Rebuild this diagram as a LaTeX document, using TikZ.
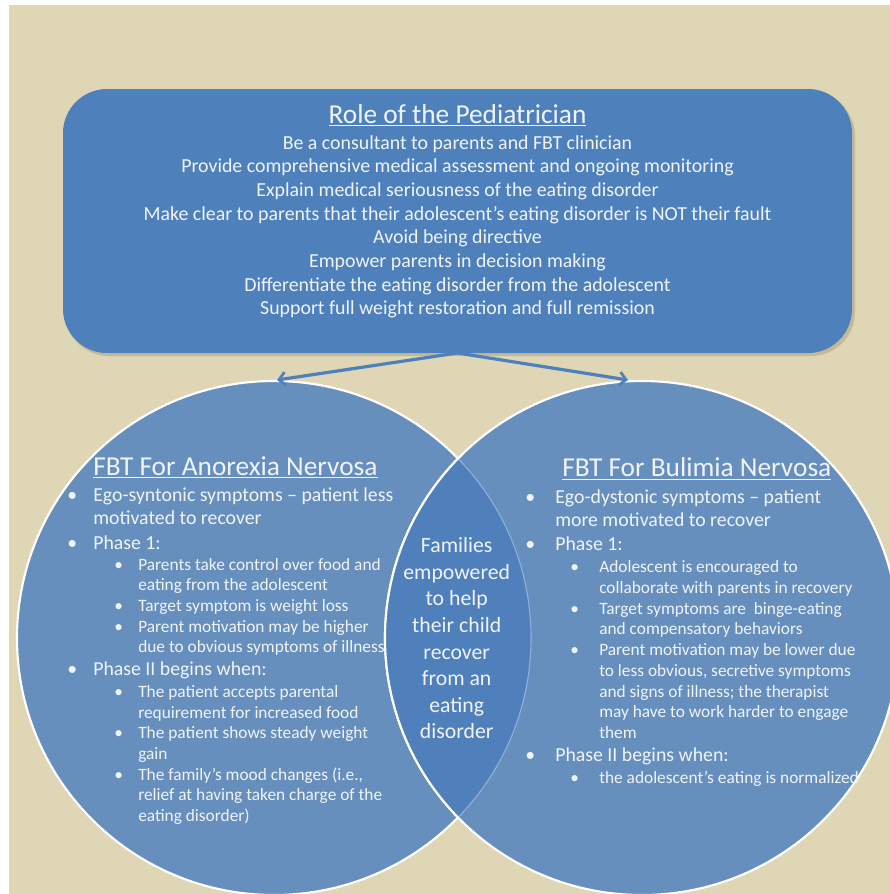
\documentclass[tikz,border=0pt]{standalone}
\usepackage{fontspec}
\setmainfont{Carlito}
\usetikzlibrary{arrows.meta}
\definecolor{beige}{RGB}{223,214,182}
\definecolor{boxblue}{RGB}{78,128,187}
\definecolor{circblue}{RGB}{102,143,189}
\definecolor{lensblue}{RGB}{80,128,188}
\definecolor{shadowc}{RGB}{170,158,120}
\definecolor{txtc}{RGB}{240,244,250}
\tikzset{
  txt/.style={inner sep=0pt, text=txtc, anchor=base west},
  ctr/.style={inner sep=0pt, text=txtc, anchor=base},
  fTop/.style={font=\fontsize{14.9}{16}\selectfont},
  fHead/.style={font=\fontsize{20.5}{22}\selectfont},
  fOne/.style={font=\fontsize{14.85}{16}\selectfont},
  fTwo/.style={font=\fontsize{13}{14}\selectfont},
  fMid/.style={font=\fontsize{16.3}{17}\selectfont},
  conn/.style={draw=boxblue, line width=2.4pt, -{Straight Barb[length=5pt,width=10pt,line width=2pt]}},
}
\newcommand{\ul}[1]{\underline{#1}}
\begin{document}
\begin{tikzpicture}[x=0.75pt,y=-0.75pt]
\useasboundingbox (0,0) rectangle (890,894);
\fill[white] (0,0) rectangle (890,894);
\fill[beige] (9,5) rectangle (890,894);
% top box
\fill[shadowc, opacity=0.5, rounded corners=33pt] (65,92) rectangle (855,356);
\node[draw=none, fill=boxblue, rounded corners=33pt, minimum width=789*0.75pt, minimum height=264*0.75pt, inner sep=0pt] (box) at (457.5,221) {};
% circles
\coordinate (cL) at (274,638);
\coordinate (cR) at (642,638);
\fill[circblue] (cL) circle (257*0.75pt);
\draw[white, line width=1.6pt] (cL) circle (257*0.75pt);
\fill[circblue] (cR) circle (257*0.75pt);
\draw[white, line width=1.6pt] (cR) circle (257*0.75pt);
\begin{scope}
  \clip (cL) circle (257*0.75pt);
  \fill[lensblue] (cR) circle (257*0.75pt);
  \draw[white, line width=1.6pt] (cR) circle (257*0.75pt);
\end{scope}
\begin{scope}
  \clip (cR) circle (257*0.75pt);
  \draw[white, opacity=0.35, line width=0.8pt] (cL) circle (257*0.75pt);
\end{scope}
% arrows
\coordinate (aL) at (277,380);
\coordinate (aR) at (628,380);
\coordinate (aS) at (457.5,353);
\draw[conn] (aS) -- (aL);
\draw[conn] (aS) -- (aR);
% top text
\node[ctr, fHead] (t0) at (457.5,123) {\ul{Role of the Pediatrician}};
\node[ctr, fTop] (t1) at (457.5,149) {Be a consultant to parents and FBT clinician};
\node[ctr, fTop] (t2) at (457.5,172.7) {Provide comprehensive medical assessment and ongoing monitoring};
\node[ctr, fTop] (t3) at (457.5,196.4) {Explain medical seriousness of the eating disorder};
\node[ctr, fTop] (t4) at (457.5,220.1) {Make clear to parents that their adolescent’s eating disorder is NOT their fault};
\node[ctr, fTop] (t5) at (457.5,243.8) {Avoid being directive};
\node[ctr, fTop] (t6) at (457.5,267.5) {Empower parents in decision making};
\node[ctr, fTop] (t7) at (457.5,291.2) {Differentiate the eating disorder from the adolescent};
\node[ctr, fTop] (t8) at (457.5,314.9) {Support full weight restoration and full remission};
% left circle text
\node[txt, fHead] (a0) at (93,475) {\ul{FBT For Anorexia Nervosa}};
\node[txt, fOne] (ab1) at (67,501.7) {•};
\node[txt, fOne] (a1) at (93,501.7) {Ego-syntonic symptoms – patient less};
\node[txt, fOne] (a2) at (93,524.5) {motivated to recover};
\node[txt, fOne] (ab3) at (67,549) {•};
\node[txt, fOne] (a3) at (93,549) {Phase 1:};
\node[txt, fTwo] (ab4) at (114,570) {•};
\node[txt, fTwo] (a4) at (138,570) {Parents take control over food and};
\node[txt, fTwo] (a5) at (138,590.7) {eating from the adolescent};
\node[txt, fTwo] (ab6) at (114,611.5) {•};
\node[txt, fTwo] (a6) at (138,611.5) {Target symptom is weight loss};
\node[txt, fTwo] (ab7) at (114,632.2) {•};
\node[txt, fTwo] (a7) at (138,632.2) {Parent motivation may be higher};
\node[txt, fTwo] (a8) at (138,652.9) {due to obvious symptoms of illness};
\node[txt, fOne] (ab9) at (67,675.5) {•};
\node[txt, fOne] (a9) at (93,675.5) {Phase II begins when:};
\node[txt, fTwo] (ab10) at (114,697.3) {•};
\node[txt, fTwo] (a10) at (138,697.3) {The patient accepts parental};
\node[txt, fTwo] (a11) at (138,718) {requirement for increased food};
\node[txt, fTwo] (ab12) at (114,738.7) {•};
\node[txt, fTwo] (a12) at (138,738.7) {The patient shows steady weight};
\node[txt, fTwo] (a13) at (138,759.4) {gain};
\node[txt, fTwo] (ab14) at (114,780.1) {•};
\node[txt, fTwo] (a14) at (138,780.1) {The family’s mood changes (i.e.,};
\node[txt, fTwo] (a15) at (138,800.8) {relief at having taken charge of the};
\node[txt, fTwo] (a16) at (138,821.5) {eating disorder)};
% right circle text
\node[txt, fHead] (b0) at (562,476.7) {\ul{FBT For Bulimia Nervosa}};
\node[txt, fOne] (bb1) at (525,503.3) {•};
\node[txt, fOne] (b1) at (555,503.3) {Ego-dystonic symptoms – patient};
\node[txt, fOne] (b2) at (555,526.3) {more motivated to recover};
\node[txt, fOne] (bb3) at (525,550) {•};
\node[txt, fOne] (b3) at (555,550) {Phase 1:};
\node[txt, fTwo] (bb4) at (570,572.7) {•};
\node[txt, fTwo] (b4) at (599,572.7) {Adolescent is encouraged to};
\node[txt, fTwo] (b5) at (599,593.4) {collaborate with parents in recovery};
\node[txt, fTwo] (bb6) at (570,614.2) {•};
\node[txt, fTwo] (b6) at (599,614.2) {Target symptoms are\ \ binge-eating};
\node[txt, fTwo] (b7) at (599,634.9) {and compensatory behaviors};
\node[txt, fTwo] (bb8) at (570,655.7) {•};
\node[txt, fTwo] (b8) at (599,655.7) {Parent motivation may be lower due};
\node[txt, fTwo] (b9) at (599,676.5) {to less obvious, secretive symptoms};
\node[txt, fTwo] (b10) at (599,697.2) {and signs of illness; the therapist};
\node[txt, fTwo] (b11) at (599,717.7) {may have to work harder to engage};
\node[txt, fTwo] (b12) at (599,738.4) {them};
\node[txt, fOne] (bb13) at (525,761.8) {•};
\node[txt, fOne] (b13) at (555,761.8) {Phase II begins when:};
\node[txt, fTwo] (bb14) at (570,783.3) {•};
\node[txt, fTwo] (b14) at (599,783.3) {the adolescent’s eating is normalized};
% center text
\node[ctr, fMid] (m1) at (456.7,552.7) {Families};
\node[ctr, fMid] (m2) at (456.7,579.3) {empowered};
\node[ctr, fMid] (m3) at (456.7,605.9) {to help};
\node[ctr, fMid] (m4) at (456.7,632.5) {their child};
\node[ctr, fMid] (m5) at (456.7,659.1) {recover};
\node[ctr, fMid] (m6) at (456.7,685.7) {from an};
\node[ctr, fMid] (m7) at (456.7,712.3) {eating};
\node[ctr, fMid] (m8) at (456.7,738.9) {disorder};
\end{tikzpicture}
\end{document}
